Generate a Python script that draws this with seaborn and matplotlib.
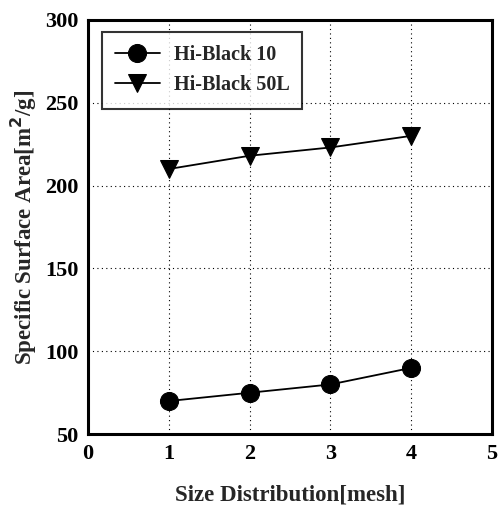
import matplotlib
matplotlib.use("Agg")
import matplotlib.pyplot as plt
import seaborn as sns
import pandas as pd

mesh = [1, 2, 3, 4]
hb10 = [70, 75, 80, 90]
hb50l = [210, 218, 223, 230]
series_names = ["Hi-Black 10", "Hi-Black 50L"]

sns.set_theme(style="white")
plt.rcParams['font.family'] = ['Liberation Serif', 'DejaVu Serif']
plt.rcParams['font.weight'] = 'bold'

df = pd.DataFrame({
    "mesh": mesh * 2,
    "area": hb10 + hb50l,
    "series": [series_names[0]] * 4 + [series_names[1]] * 4,
})

fig = plt.figure(figsize=(5.0, 5.09), dpi=100)
ax = fig.add_axes([0.176, 0.147, 0.808, 0.814])

sns.lineplot(data=df, x="mesh", y="area", hue="series", style="series",
             markers={series_names[0]: "o", series_names[1]: "v"},
             dashes=False, palette={series_names[0]: "black", series_names[1]: "black"},
             markersize=13, linewidth=1.3, ax=ax, markeredgecolor="black")

ax.set_xlim(0, 5)
ax.set_ylim(50, 300)
ax.set_xticks([0, 1, 2, 3, 4, 5])
ax.set_yticks([50, 100, 150, 200, 250, 300])
ax.grid(True, linestyle=(0, (1, 3)), color="black", linewidth=0.8)
for s in ax.spines.values():
    s.set_linewidth(2.2)
    s.set_color("black")
ax.tick_params(direction="in", length=4, width=1.5, labelsize=16, colors="black", pad=7)
for lab in ax.get_xticklabels() + ax.get_yticklabels():
    lab.set_fontweight("bold")

ax.set_xlabel("Size Distribution[mesh]", fontsize=16.5, fontweight="bold", labelpad=15)
ax.set_ylabel("Specific Surface Area[m$^{\\mathbf{2}}$/g]", fontsize=16.5, fontweight="bold", labelpad=4)

leg = ax.legend(loc="upper left", bbox_to_anchor=(0.035, 0.97), fontsize=14.5, frameon=True,
                fancybox=False, edgecolor="black", handlelength=2.2, handletextpad=0.7,
                borderpad=0.65, borderaxespad=0, labelspacing=0.5)
leg.get_frame().set_linewidth(1.5)
for t in leg.get_texts():
    t.set_fontweight("bold")

fig.savefig("out.png", dpi=100)
